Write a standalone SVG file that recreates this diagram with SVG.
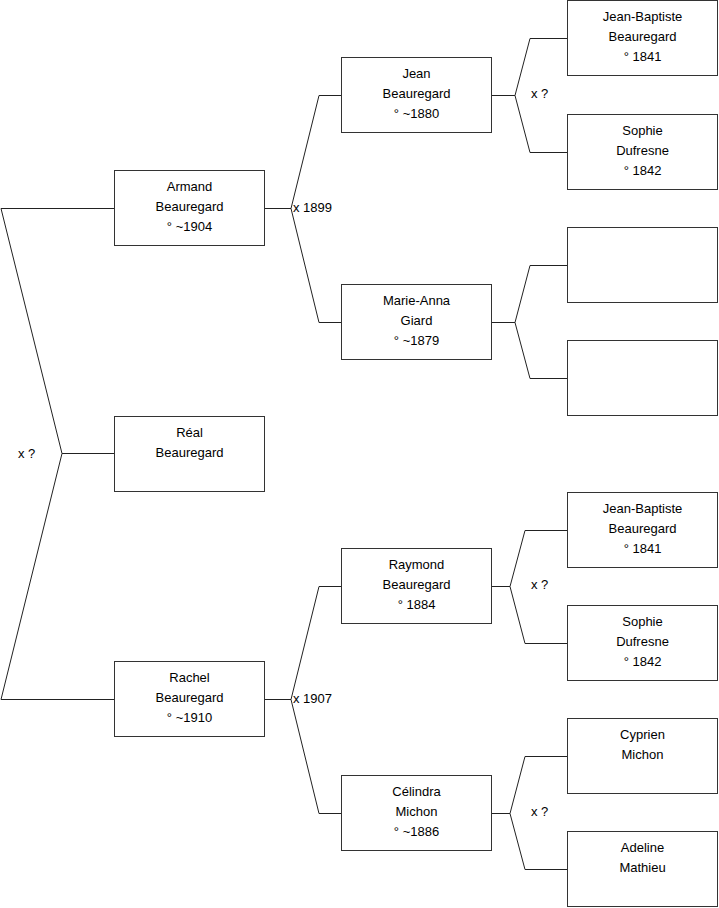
<svg xmlns="http://www.w3.org/2000/svg" width="719" height="908" viewBox="0 0 719 908">
<style>
.box{fill:#fff;stroke:#333;stroke-width:1}
.t{font-family:"Liberation Sans",Arial,sans-serif;font-size:13px;fill:#000;text-anchor:middle}
.l{font-family:"Liberation Sans",Arial,sans-serif;font-size:13px;fill:#000}
.c{fill:none;stroke:#222;stroke-width:1}
</style>
<rect width="719" height="908" fill="#fff"/>
<g id="connectors">
<path class="c" d="M114,208.5 H1 L62,453.5 H114 M62,453.5 L1,699.5 H114"/>
<path class="c" d="M265,208.5 H291 L319,95.5 H341 M291,208.5 L319,322.5 H341"/>
<path class="c" d="M265,699.5 H291 L319,586.5 H341 M291,699.5 L319,813.5 H341"/>
<path class="c" d="M492,95.5 H515 L530,38.5 H567 M515,95.5 L530,152.5 H567"/>
<path class="c" d="M492,322.5 H515 L530,265.5 H567 M515,322.5 L530,378.5 H567"/>
<path class="c" d="M492,586.5 H510 L525,530.5 H567 M510,586.5 L525,643.5 H567"/>
<path class="c" d="M492,813.5 H510 L525,756.5 H567 M510,813.5 L525,869.5 H567"/>
<text class="l" x="18" y="457.5">x ?</text>
<text class="l" x="293" y="212">x 1899</text>
<text class="l" x="293" y="703">x 1907</text>
<text class="l" x="531" y="97.5">x ?</text>
<text class="l" x="531" y="588.5">x ?</text>
<text class="l" x="531" y="816">x ?</text>
</g>
<g id="armand"><rect class="box" x="114.5" y="170.5" width="150" height="75"/>
<text class="t" x="189.5" y="191">Armand</text><text class="t" x="189.5" y="211">Beauregard</text><text class="t" x="189.5" y="231">° ~1904</text></g>
<g id="real"><rect class="box" x="114.5" y="416.5" width="150" height="75"/>
<text class="t" x="189.5" y="437">Réal</text><text class="t" x="189.5" y="457">Beauregard</text></g>
<g id="rachel"><rect class="box" x="114.5" y="661.5" width="150" height="75"/>
<text class="t" x="189.5" y="682">Rachel</text><text class="t" x="189.5" y="702">Beauregard</text><text class="t" x="189.5" y="722">° ~1910</text></g>
<g id="jean"><rect class="box" x="341.5" y="57.5" width="150" height="75"/>
<text class="t" x="416.5" y="78">Jean</text><text class="t" x="416.5" y="98">Beauregard</text><text class="t" x="416.5" y="118">° ~1880</text></g>
<g id="marie-anna"><rect class="box" x="341.5" y="284.5" width="150" height="75"/>
<text class="t" x="416.5" y="305">Marie-Anna</text><text class="t" x="416.5" y="325">Giard</text><text class="t" x="416.5" y="345">° ~1879</text></g>
<g id="raymond"><rect class="box" x="341.5" y="548.5" width="150" height="75"/>
<text class="t" x="416.5" y="569">Raymond</text><text class="t" x="416.5" y="589">Beauregard</text><text class="t" x="416.5" y="609">° 1884</text></g>
<g id="celindra"><rect class="box" x="341.5" y="775.5" width="150" height="75"/>
<text class="t" x="416.5" y="796">Célindra</text><text class="t" x="416.5" y="816">Michon</text><text class="t" x="416.5" y="836">° ~1886</text></g>
<g id="jean-baptiste-1"><rect class="box" x="567.5" y="0.5" width="150" height="75"/>
<text class="t" x="642.5" y="21">Jean-Baptiste</text><text class="t" x="642.5" y="41">Beauregard</text><text class="t" x="642.5" y="61">° 1841</text></g>
<g id="sophie-1"><rect class="box" x="567.5" y="114.5" width="150" height="75"/>
<text class="t" x="642.5" y="135">Sophie</text><text class="t" x="642.5" y="155">Dufresne</text><text class="t" x="642.5" y="175">° 1842</text></g>
<g id="empty-1"><rect class="box" x="567.5" y="227.5" width="150" height="75"/></g>
<g id="empty-2"><rect class="box" x="567.5" y="340.5" width="150" height="75"/></g>
<g id="jean-baptiste-2"><rect class="box" x="567.5" y="492.5" width="150" height="75"/>
<text class="t" x="642.5" y="513">Jean-Baptiste</text><text class="t" x="642.5" y="533">Beauregard</text><text class="t" x="642.5" y="553">° 1841</text></g>
<g id="sophie-2"><rect class="box" x="567.5" y="605.5" width="150" height="75"/>
<text class="t" x="642.5" y="626">Sophie</text><text class="t" x="642.5" y="646">Dufresne</text><text class="t" x="642.5" y="666">° 1842</text></g>
<g id="cyprien"><rect class="box" x="567.5" y="718.5" width="150" height="75"/>
<text class="t" x="642.5" y="739">Cyprien</text><text class="t" x="642.5" y="759">Michon</text></g>
<g id="adeline"><rect class="box" x="567.5" y="831.5" width="150" height="75"/>
<text class="t" x="642.5" y="852">Adeline</text><text class="t" x="642.5" y="872">Mathieu</text></g>
</svg>
